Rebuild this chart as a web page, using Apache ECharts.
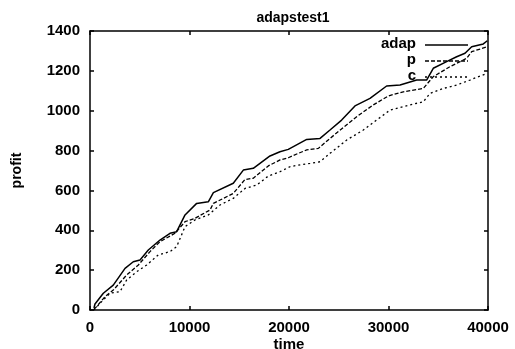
<!DOCTYPE html>
<html><head><meta charset="utf-8">
<script src="https://cdn.jsdelivr.net/npm/echarts@6/dist/echarts.min.js"></script>
<style>html,body{margin:0;padding:0;background:#fff}#c{width:515px;height:349px}</style>
</head><body><div id="c"></div>
<script>
const titleText = 'adapstest1';
const xName = 'time', yName = 'profit';
const seriesNames = ['adap', 'p', 'c'];
const adapT = [400, 500, 1340, 2340, 3520, 4350, 5030, 5860, 7035, 8040, 8710, 9550, 10720, 11890, 12400, 14400, 15410, 16410, 18090, 19090, 19930, 21780, 23120, 24120, 25290, 26630, 28140, 29810, 31160, 32830, 33830, 34500, 35840, 36850, 37690, 38360, 39530, 39930];
const adapV = [10, 30, 84, 125, 209, 242, 251, 301, 351, 385, 393, 477, 535, 543, 589, 636, 702, 711, 773, 794, 806, 856, 861, 903, 953, 1024, 1062, 1124, 1129, 1154, 1154, 1213, 1246, 1271, 1288, 1321, 1335, 1351];
const pT = [400, 670, 1510, 2340, 3690, 4860, 6030, 7040, 8540, 9550, 10550, 12060, 12400, 14400, 15580, 16410, 17920, 19100, 19930, 20930, 21780, 22950, 24120, 26800, 28470, 29980, 31490, 33500, 34500, 36180, 37860, 38360, 39930];
const pV = [5, 17, 67, 100, 176, 226, 293, 343, 385, 443, 460, 502, 535, 585, 655, 661, 723, 753, 764, 786, 803, 811, 861, 970, 1029, 1074, 1095, 1112, 1171, 1221, 1263, 1296, 1321];
const cT = [400, 500, 1170, 2010, 3015, 3690, 4690, 5700, 6860, 8040, 8710, 9550, 10550, 11890, 13070, 14400, 15580, 16750, 17920, 19100, 20100, 20930, 22110, 23120, 24120, 25800, 27470, 28810, 30150, 32160, 33500, 34170, 35510, 36850, 38190, 39930];
const cV = [0, 10, 42, 84, 92, 151, 192, 226, 276, 293, 318, 418, 452, 477, 527, 560, 610, 627, 672, 694, 719, 727, 736, 744, 786, 853, 903, 953, 1003, 1029, 1045, 1087, 1112, 1129, 1154, 1188];
const xTicks = [0, 10000, 20000, 30000, 40000];
const yTicks = [0, 200, 400, 600, 800, 1000, 1200, 1400];

const zip = (a, b) => a.map((v, i) => [v, b[i]]);
const font = 'Liberation Sans, Arial, sans-serif';
const styles = [{type: 'solid', width: 1.5}, {type: [4, 2], width: 1.3}, {type: [2, 3], width: 1.3}];
const dataSets = [zip(adapT, adapV), zip(pT, pV), zip(cT, cV)];
const chart = echarts.init(document.getElementById('c'));
const axisCommon = {
  axisLine: {show: true, onZero: false, lineStyle: {color: '#000', width: 1.5}},
  axisTick: {show: true, inside: true, length: 4, lineStyle: {color: '#000', width: 1.5}},
  splitLine: {show: false}
};
const legendGraphics = [];
seriesNames.forEach((n, i) => {
  const yc = 45 + i * 16;
  legendGraphics.push({type: 'text', right: 99, top: yc - 9,
    style: {text: n, font: 'bold 15px ' + font, fill: '#000'}});
  legendGraphics.push({type: 'line', shape: {x1: 425, y1: yc, x2: 468, y2: yc},
    style: {stroke: '#000', lineWidth: 1.3, lineDash: styles[i].type === 'solid' ? null : styles[i].type}});
});
const fmt = v => String(v);
const labelStyle = {fontFamily: font, fontSize: 15, fontWeight: 'bold', color: '#000'};
chart.setOption({
  animation: false,
  backgroundColor: '#fff',
  title: {text: titleText, left: 288, textAlign: 'center', top: 6,
    textStyle: {fontFamily: font, fontSize: 14, fontWeight: 'bold', color: '#000'}},
  grid: {left: 90, right: 27, top: 31, bottom: 39, containLabel: false, outerBoundsMode: 'none'},
  graphic: legendGraphics,
  xAxis: [
    Object.assign({type: 'value', min: xTicks[0], max: xTicks[xTicks.length - 1], interval: 10000,
      name: xName, nameLocation: 'middle', nameGap: 27, nameMoveOverlap: false,
      nameTextStyle: {fontFamily: font, fontSize: 15, fontWeight: 'bold', color: '#000'},
      axisLabel: Object.assign({margin: 10, formatter: fmt}, labelStyle)}, axisCommon),
    Object.assign({type: 'value', position: 'top', min: xTicks[0], max: xTicks[xTicks.length - 1], interval: 10000,
      axisLabel: {show: false}}, axisCommon)
  ],
  yAxis: [
    Object.assign({type: 'value', min: yTicks[0], max: yTicks[yTicks.length - 1], interval: 200,
      name: yName, nameLocation: 'middle', nameGap: 66, nameRotate: 90, nameMoveOverlap: false,
      nameTextStyle: {fontFamily: font, fontSize: 14, fontWeight: 'bold', color: '#000'},
      axisLabel: Object.assign({margin: 10, formatter: fmt}, labelStyle)}, axisCommon),
    Object.assign({type: 'value', position: 'right', min: yTicks[0], max: yTicks[yTicks.length - 1], interval: 200,
      axisLabel: {show: false}}, axisCommon)
  ],
  series: seriesNames.map((n, i) => ({
    name: n, type: 'line', data: dataSets[i], showSymbol: false, symbol: 'none',
    lineStyle: {color: '#000', type: styles[i].type, width: styles[i].width},
    itemStyle: {color: '#000'}
  }))
});
</script></body></html>
